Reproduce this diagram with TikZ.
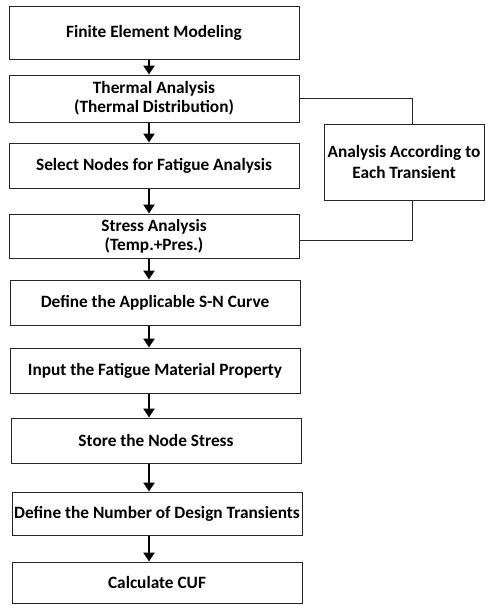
\documentclass[tikz,border=0pt]{standalone}
\usepackage{fontspec}
\setmainfont{Carlito}
\usetikzlibrary{arrows.meta}
\begin{document}
\begin{tikzpicture}[x=1pt,y=-1pt,
  stepbox/.style={draw=black!85,line width=1pt,rectangle,minimum width=290pt,
    inner sep=0pt,align=center,font=\fontsize{17.3}{19}\selectfont\bfseries},
  sidebox/.style={draw=black!85,line width=1pt,rectangle,minimum width=160pt,
    minimum height=76pt,inner sep=0pt,align=center,font=\fontsize{17.3}{21}\selectfont\bfseries},
  flow/.style={line width=2.4pt,-{Triangle[width=11pt,length=9pt]}},
  link/.style={draw=black!85,line width=1pt}]
\useasboundingbox (0,0) rectangle (485,605);
% main sequence of steps
\node[stepbox,minimum height=53pt] (fem) at (154,32.5) {Finite Element Modeling};
\node[stepbox,minimum height=47pt] (therm) at (154,98.5) {Thermal Analysis\\(Thermal Distribution)};
\node[stepbox,minimum height=45pt] (sel) at (154,165.5) {Select Nodes for Fatigue Analysis};
\node[stepbox,minimum height=44pt] (stress) at (154,236) {Stress Analysis\\(Temp.+Pres.)};
\node[stepbox,minimum height=45pt] (sn) at (155,302.5) {Define the Applicable S-N Curve};
\node[stepbox,minimum height=45pt] (mat) at (155,370.5) {Input the Fatigue Material Property};
\node[stepbox,minimum height=45pt] (store) at (156,440.5) {Store the Node Stress};
\node[stepbox,minimum height=43pt] (ndt) at (157,513.5) {Define the Number of Design Transients};
\node[stepbox,minimum height=41pt] (cuf) at (157,582.5) {Calculate CUF};
% loop box beside the thermal and stress steps
\node[sidebox] (trans) at (404,162) {Analysis According to\\Each Transient};
% arrows between steps
\foreach \a/\b in {fem/therm,therm/sel,sel/stress,stress/sn,sn/mat,mat/store,store/ndt,ndt/cuf}
  \draw[flow] (\a.south -| 149,0) -- (\b.north -| 149,0);
% loop connectors
\coordinate (t1) at (412,98.5);
\coordinate (t2) at (412,240);
\draw[link] (therm.east) -- (t1) -- (t1 |- trans.north);
\draw[link] (t1 |- trans.south) -- (t2) -- (t2 -| stress.east);
\end{tikzpicture}
\end{document}
